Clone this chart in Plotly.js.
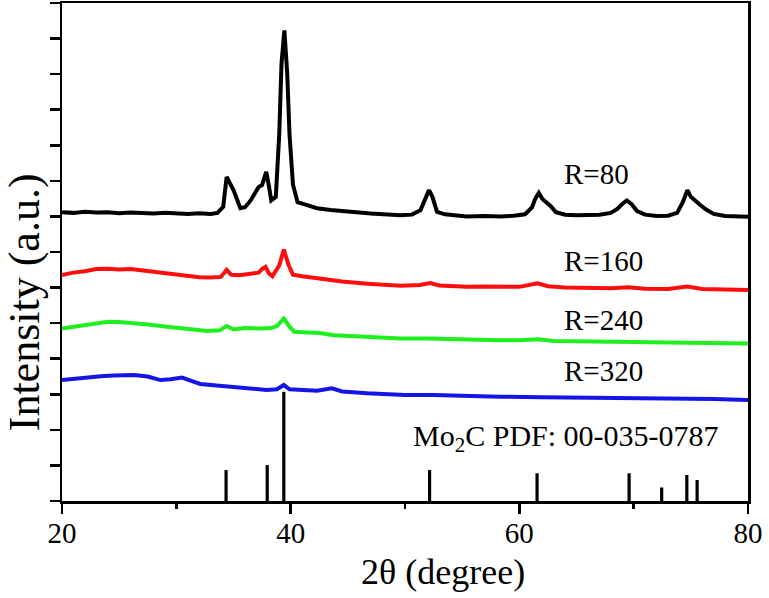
<!DOCTYPE html>
<html>
<head>
<meta charset="utf-8">
<script src="https://cdn.plot.ly/plotly-3.0.1.min.js"></script>
<style>html,body{margin:0;padding:0;background:#fff;}#chart{width:769px;height:598px;}</style>
</head>
<body>
<div id="chart"></div>
<script>
// ---- data ----
const r80X = [20,21,22,23,24,25,26,27,28,29,30,31,32,33,33.6,34.1,34.4,34.7,35.0,35.6,36.0,36.5,36.9,37.2,37.5,37.86,38.1,38.3,38.7,39.0,39.2,39.45,39.7,39.9,40.2,40.6,41.3,42.3,43.5,45.2,47,49.6,50.6,51.35,51.8,52.1,52.4,52.8,53.5,55.4,57,58.35,59.5,60.5,61.1,61.4,61.7,62.0,62.3,62.7,63.2,64,65,66,67,68,68.6,69.0,69.4,69.8,70.3,71,72,73,73.8,74.3,74.7,75.0,75.4,75.8,76.3,77,78,79,80];
const r80Y = [8.12,8.10,8.13,8.11,8.12,8.09,8.11,8.10,8.08,8.10,8.09,8.07,8.09,8.07,8.10,8.27,9.11,8.95,8.74,8.23,8.26,8.45,8.68,8.83,8.88,9.25,8.85,8.45,8.55,10.3,12.3,13.23,12.0,10.3,8.9,8.40,8.33,8.23,8.18,8.13,8.08,8.03,8.05,8.17,8.50,8.74,8.55,8.13,8.06,8.00,8.01,8.00,8.02,8.06,8.25,8.50,8.66,8.50,8.41,8.30,8.12,8.05,8.03,8.04,8.05,8.10,8.22,8.35,8.45,8.35,8.15,8.05,8.01,8.02,8.10,8.40,8.74,8.55,8.42,8.33,8.20,8.07,8.01,8.00,7.99];

const r160X = [20,21,22,23,24,25,26,27,28,29,30,31,32,33,33.9,34.4,34.8,35.5,36.5,37.2,37.5,37.8,38.1,38.4,39.0,39.4,39.8,40.2,41,42,43.2,44.5,46.7,48,49.6,51.3,52.2,53,54,55.4,57,58.3,60,61.6,62.5,64,66,68,69.5,71,73,74.7,76,78,80];
const r160Y = [6.35,6.42,6.46,6.52,6.53,6.51,6.52,6.48,6.45,6.41,6.38,6.34,6.29,6.28,6.30,6.50,6.36,6.35,6.40,6.42,6.52,6.58,6.40,6.32,6.62,7.07,6.65,6.36,6.32,6.27,6.21,6.17,6.11,6.08,6.05,6.07,6.13,6.06,6.04,6.02,6.03,6.02,6.02,6.12,6.04,6.00,5.99,5.98,6.01,5.97,5.96,6.03,5.96,5.95,5.93];

const r240X = [20,21,22,23,24,25,26.3,27.5,29.2,30.5,31.5,32.7,33.8,34.4,35,36,37.4,38.3,38.8,39.4,39.9,40.3,41.5,42.5,43.8,45,47,49.6,52,54,56,58.3,60,61.6,63,65,68,71,74,77,80];
const r240Y = [4.85,4.90,4.95,4.99,5.04,5.03,5.00,4.96,4.90,4.86,4.82,4.78,4.80,4.92,4.82,4.86,4.85,4.86,4.92,5.13,4.90,4.76,4.74,4.72,4.66,4.64,4.61,4.57,4.57,4.55,4.54,4.52,4.52,4.55,4.50,4.49,4.47,4.47,4.46,4.45,4.43];

const r320X = [20,21,22,23.4,24.5,26.3,27.5,28.6,29.5,30.5,31.3,32.1,33.5,35,36.2,37.9,38.8,39.4,39.9,40.9,42.3,43.6,44.5,46.7,48.5,50,52.5,55,58.3,62,66,70,74,77,80];
const r320Y = [3.40,3.44,3.47,3.51,3.53,3.54,3.50,3.40,3.42,3.47,3.38,3.29,3.25,3.21,3.17,3.12,3.14,3.26,3.14,3.12,3.10,3.17,3.08,3.03,3.00,2.98,2.98,2.95,2.93,2.92,2.91,2.90,2.88,2.87,2.84];

// Mo2C reference pattern PDF 00-035-0787
const pdfPos = [34.35, 37.95, 39.4, 52.15, 61.55, 69.6, 72.45, 74.65, 75.55];
const pdfInt = [0.87, 1.01, 3.07, 0.87, 0.78, 0.78, 0.38, 0.73, 0.59];

const seriesNames = ['R=80', 'R=160', 'R=240', 'R=320'];
const pdfLabel = 'Mo<sub>2</sub>C PDF: 00-035-0787';
const xTickVals = [20, 40, 60, 80];

// ---- build ----
const serif = 'Liberation Serif, Times New Roman, serif';
const colors = ['#000000', '#ff0d0d', '#1fee1f', '#1414e6'];
const xs = [r80X, r160X, r240X, r320X];
const ys = [r80Y, r160Y, r240Y, r320Y];

const traces = xs.map((x, i) => ({
  type: 'scatter', mode: 'lines', x: x, y: ys[i], name: seriesNames[i],
  line: {color: colors[i], width: 4, shape: 'linear'}, hoverinfo: 'skip'
}));

const stickX = [], stickY = [];
pdfPos.forEach((p, i) => { stickX.push(p, p, null); stickY.push(0, pdfInt[i], null); });
traces.push({type: 'scatter', mode: 'lines', x: stickX, y: stickY,
  line: {color: '#000', width: 3.2}, hoverinfo: 'skip', name: 'PDF'});

const labelY = [9.19, 6.74, 5.08, 3.65];
const annotations = seriesNames.map((t, i) => ({
  x: 63.75, y: labelY[i], xref: 'x', yref: 'y', text: t, showarrow: false,
  xanchor: 'left', yanchor: 'middle', font: {family: serif, size: 29, color: '#000'}
}));
annotations.push({x: 64.05, y: 1.77, xref: 'x', yref: 'y', text: pdfLabel, showarrow: false,
  xanchor: 'center', yanchor: 'middle', font: {family: serif, size: 30, color: '#000'}});
annotations.push({x: 0.555, y: -0.143, xref: 'paper', yref: 'paper', text: '2θ (degree)', showarrow: false,
  xanchor: 'center', yanchor: 'middle', font: {family: serif, size: 36, color: '#000'}});
annotations.push({x: -0.0547, y: 0.40, xref: 'paper', yref: 'paper', text: 'Intensity (a.u.)', showarrow: false,
  textangle: -90, xanchor: 'center', yanchor: 'middle', font: {family: serif, size: 44, color: '#000'}});

const layout = {
  width: 769, height: 598,
  margin: {l: 62, r: 21, t: 3, b: 97},
  paper_bgcolor: '#fff', plot_bgcolor: '#fff',
  showlegend: false,
  xaxis: {
    range: [20, 80], tickvals: xTickVals, ticktext: xTickVals.map(String),
    ticks: 'outside', ticklen: 10, tickwidth: 2.5, tickcolor: '#000',
    minor: {dtick: 10, tick0: 0, ticks: 'outside', ticklen: 5, tickwidth: 2.5, tickcolor: '#000', showgrid: false},
    showline: true, linewidth: 2.5, linecolor: '#000', mirror: true,
    showgrid: false, zeroline: false, ticklabelstandoff: -5,
    tickfont: {family: serif, size: 29, color: '#000'}
  },
  yaxis: {
    range: [0, 14], dtick: 1, tick0: 0,
    ticks: 'outside', ticklen: 10, tickwidth: 2.5, tickcolor: '#000',
    showticklabels: false,
    showline: true, linewidth: 2.5, linecolor: '#000', mirror: true,
    showgrid: false, zeroline: false
  },
  annotations: annotations
};

Plotly.newPlot('chart', traces, layout, {staticPlot: true, displayModeBar: false});
</script>
</body>
</html>
